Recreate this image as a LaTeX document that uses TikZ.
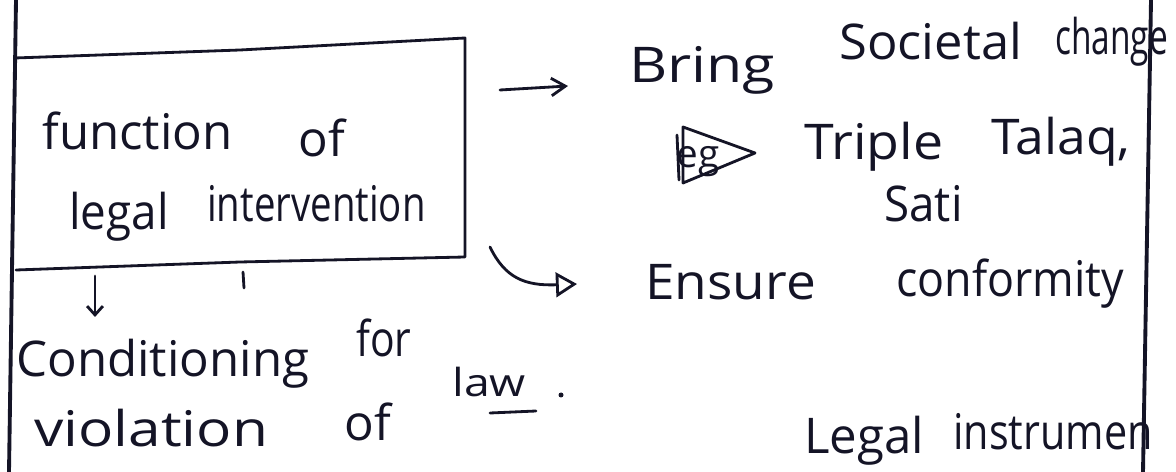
\documentclass[tikz,border=0pt]{standalone}
\usepackage{fontspec}
\setmainfont{Open Sans}
\usetikzlibrary{arrows.meta}
\definecolor{ink}{RGB}{20,20,38}
\begin{document}
\begin{tikzpicture}[x=0.02cm,y=-0.02cm,
  word/.style={anchor=base west,inner sep=0pt,text=ink,font=\fontsize{28}{32}\selectfont,xscale=#1},
  word/.default=1,
  small/.style={word=#1,font=\fontsize{22}{26}\selectfont},
  small/.default=1,
  pen/.style={draw=ink,line width=1.6pt,line cap=round,line join=round}]
\useasboundingbox (0,0) rectangle (1176,472);
\draw[pen,line width=2.2pt] (16,0) -- (9,472);
\draw[pen,line width=2.2pt] (1151,0) -- (1143,472);
\coordinate (tl) at (15,58);
\coordinate (tr) at (465,38);
\coordinate (br) at (465,257);
\coordinate (bl) at (16,270);
\draw[pen] (tl) -- (240,50) -- (tr) -- (br) -- (240,262) -- (bl);
\node[word] (fn) at (42,150) {function};
\node[word] (ofa) at (298,157) {of};
\node[word=0.93] (lg) at (69,230) {legal};
\node[word=0.78] (iv) at (207,222) {intervention};
\node[word=1.2] (bring) at (629,83) {Bring};
\node[word=1.03] (soc) at (839,60) {Societal};
\node[word=0.68] (chg) at (1055,55) {change};
\node[word=1.09] (tri) at (804,160) {Triple};
\node[word=1.05] (tal) at (991,155) {Talaq,};
\node[word=0.93] (sati) at (884,222) {Sati};
\node[word=1.08] (ens) at (645,300) {Ensure};
\node[word=0.91] (conf) at (896,297) {conformity};
\node[word] (cond) at (16,377) {Conditioning};
\node[word=0.83] (for) at (356,357) {for};
\node[word=1.19] (viol) at (34,447) {violation};
\node[word] (ofb) at (344,440) {of};
\node[small=1.2] (law) at (452,397) {law};
\node[word] (leg) at (804,454) {Legal};
\node[word=0.84] (ins) at (953,450) {instrumen};
\node[small] (eg) at (676,168) {eg};
\draw[pen] (683,127) -- (755,153) -- (683,183) -- cycle;
\draw[pen] (677,135) -- (679,180);
\coordinate (a1) at (500,90);
\coordinate (a2) at (568,86);
\draw[pen,-{Straight Barb[length=8pt,width=10pt]}] (a1) -- (a2);
\coordinate (c1) at (490,247);
\coordinate (c2) at (577,284);
\draw[pen,-{Triangle[open,length=12pt,width=14pt]}] (c1) .. controls (505,278) and (525,286) .. (c2);
\coordinate (d1) at (95,276);
\coordinate (d2) at (95,317);
\draw[pen,-{Straight Barb[length=5pt,width=9pt]}] (d1) -- (d2);
\draw[pen] (243,272) -- (244,288);
\draw[pen] (490,413) -- (536,411);
\fill[ink] (561,395) circle (2.5);
\end{tikzpicture}
\end{document}
